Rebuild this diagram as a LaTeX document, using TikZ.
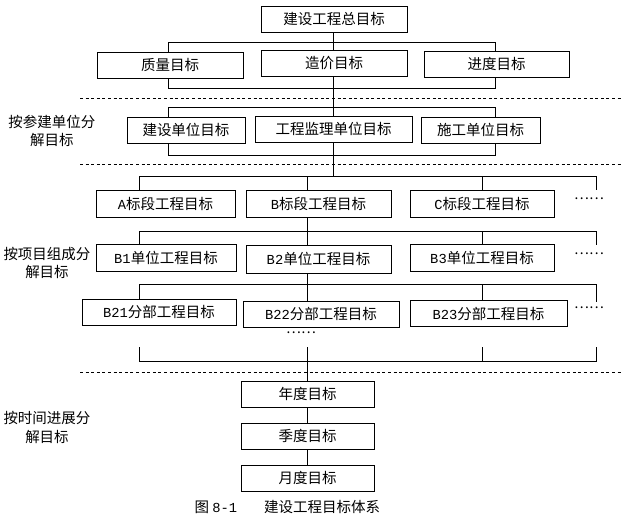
\documentclass[tikz,border=0pt]{standalone}
\usepackage{fontspec}
\setmainfont{Noto Sans CJK SC}
\newfontfamily\lat{Liberation Mono}[Scale=0.95]
\begin{document}
\begin{tikzpicture}[x=1pt,y=-1pt,
  box/.style={draw, line width=0.9pt, minimum height=26pt, inner sep=0pt, font=\fontsize{14.5}{16}\selectfont},
  lab/.style={align=center, inner sep=0pt, font=\fontsize{14.5}{18.5}\selectfont},
  dots/.style={inner sep=0pt, font=\fontsize{14}{16}\selectfont},
  ln/.style={line width=0.7pt},
  sepline/.style={line width=0.7pt, dash pattern=on 3pt off 2.6pt}]
\useasboundingbox (0,0) rectangle (625,519);
% guide coordinates (x positions of bracket legs)
\coordinate (xa) at (168,0);
\coordinate (xb) at (495,0);
\coordinate (xm) at (333.5,0);
\coordinate (ya) at (139,0);
\coordinate (yb) at (307,0);
\coordinate (yc) at (482,0);
\coordinate (yd) at (596,0);
% level 1-2
\node[box, minimum width=146pt] (top) at (334,19.5) {建设工程总目标};
\node[box, minimum width=146pt] (q) at (170,65) {质量目标};
\node[box, minimum width=146pt] (c) at (334,63) {造价目标};
\node[box, minimum width=145pt] (p) at (496.5,64) {进度目标};
% level 3
\node[box, minimum width=118pt] (u1) at (186,130) {建设单位目标};
\node[box, minimum width=157pt] (u2) at (333.5,129) {工程监理单位目标};
\node[box, minimum width=119pt] (u3) at (480.5,130) {施工单位目标};
% level 4
\node[box, minimum width=139pt, minimum height=27pt] (sa) at (165.5,203.5) {{\lat A}标段工程目标};
\node[box, minimum width=145pt, minimum height=27pt] (sb) at (318.5,203.5) {{\lat B}标段工程目标};
\node[box, minimum width=144pt, minimum height=27pt] (sc) at (482,203.5) {{\lat C}标段工程目标};
\node[dots] (d4) at (589,199) {……};
% level 5
\node[box, minimum width=140pt, minimum height=27pt] (b1) at (166,257.5) {{\lat B1}单位工程目标};
\node[box, minimum width=145pt, minimum height=28pt] (b2) at (318.5,259) {{\lat B2}单位工程目标};
\node[box, minimum width=144pt, minimum height=27pt] (b3) at (482,257.5) {{\lat B3}单位工程目标};
\node[dots] (d5) at (589,254) {……};
% level 6
\node[box, minimum width=154pt] (c1) at (159,312) {{\lat B21}分部工程目标};
\node[box, minimum width=156pt] (c2) at (321,314) {{\lat B22}分部工程目标};
\node[box, minimum width=157pt] (c3) at (488.5,313.5) {{\lat B23}分部工程目标};
\node[dots] (d6) at (589,308) {……};
\node[dots] (d7) at (301,333) {……};
% time
\node[box, minimum width=133pt] (t1) at (307.5,394) {年度目标};
\node[box, minimum width=133pt] (t2) at (307.5,436) {季度目标};
\node[box, minimum width=133pt] (t3) at (307.5,478) {月度目标};
% side labels
\node[lab] (l1) at (52,131) {按参建单位分\\解目标};
\node[lab] (l2) at (47,263) {按项目组成分\\解目标};
\node[lab] (l3) at (47,427.5) {按时间进展分\\解目标};
% caption
\node[anchor=west, inner sep=0pt, font=\fontsize{14.5}{16}\selectfont] (cap) at (194.5,507) {图 {\lat 8-1}\hspace{27pt}建设工程目标体系};
% separators
\coordinate (s1a) at (80,98);  \coordinate (s1b) at (622,98);
\coordinate (s2a) at (80,164); \coordinate (s2b) at (622,164);
\coordinate (s3a) at (80,372); \coordinate (s3b) at (622,372);
\draw[sepline] (s1a) -- (s1b);
\draw[sepline] (s2a) -- (s2b);
\draw[sepline] (s3a) -- (s3b);
% main trunk
\draw[ln] (xm |- top.south) -- (xm |- c.north);
\draw[ln] (xm |- c.south) -- (xm |- u2.north);
\coordinate (j4) at (333.5,176);
\draw[ln] (xm |- u2.south) -- (j4);
% brackets level 2
\draw[ln] (xa |- q.north) -- ++(0,-9) -| (xb |- p.north);
\draw[ln] (xa |- q.south) -- (168,88) -| (xb |- p.south);
% brackets level 3
\draw[ln] (xa |- u1.north) -- (168,107) -| (xb |- u3.north);
\draw[ln] (xa |- u1.south) -- (168,155) -| (xb |- u3.south);
% bracket level 4
\coordinate (e4) at (596,190);
\draw[ln] (ya |- sa.north) -- (139,176) -| (e4);
\draw[ln] (yb |- sb.north) -- (307,176);
\draw[ln] (yc |- sc.north) -- (482,176);
% bracket level 5
\coordinate (e5) at (596,245);
\draw[ln] (yb |- sb.south) -- (307,231);
\draw[ln] (ya |- b1.north) -- (139,231) -| (e5);
\draw[ln] (yb |- b2.north) -- (307,231);
\draw[ln] (yc |- b3.north) -- (482,231);
% bracket level 6
\coordinate (e6) at (596,302);
\draw[ln] (yb |- b2.south) -- (307,284);
\draw[ln] (ya |- c1.north) -- (139,284) -| (e6);
\draw[ln] (yb |- c2.north) -- (307,284);
\draw[ln] (yc |- c3.north) -- (482,284);
% bottom bracket
\coordinate (f1) at (139,347); \coordinate (f2) at (307,347);
\coordinate (f3) at (482,347); \coordinate (f4) at (596,347);
\draw[ln] (f1) |- (596,361) -- (f4);
\draw[ln] (f3) -- (482,361);
\draw[ln] (f2) -- (t1.north -| f2);
% time chain
\draw[ln] (t1.south -| f2) -- (t2.north -| f2);
\draw[ln] (t2.south -| f2) -- (t3.north -| f2);
\end{tikzpicture}
\end{document}
